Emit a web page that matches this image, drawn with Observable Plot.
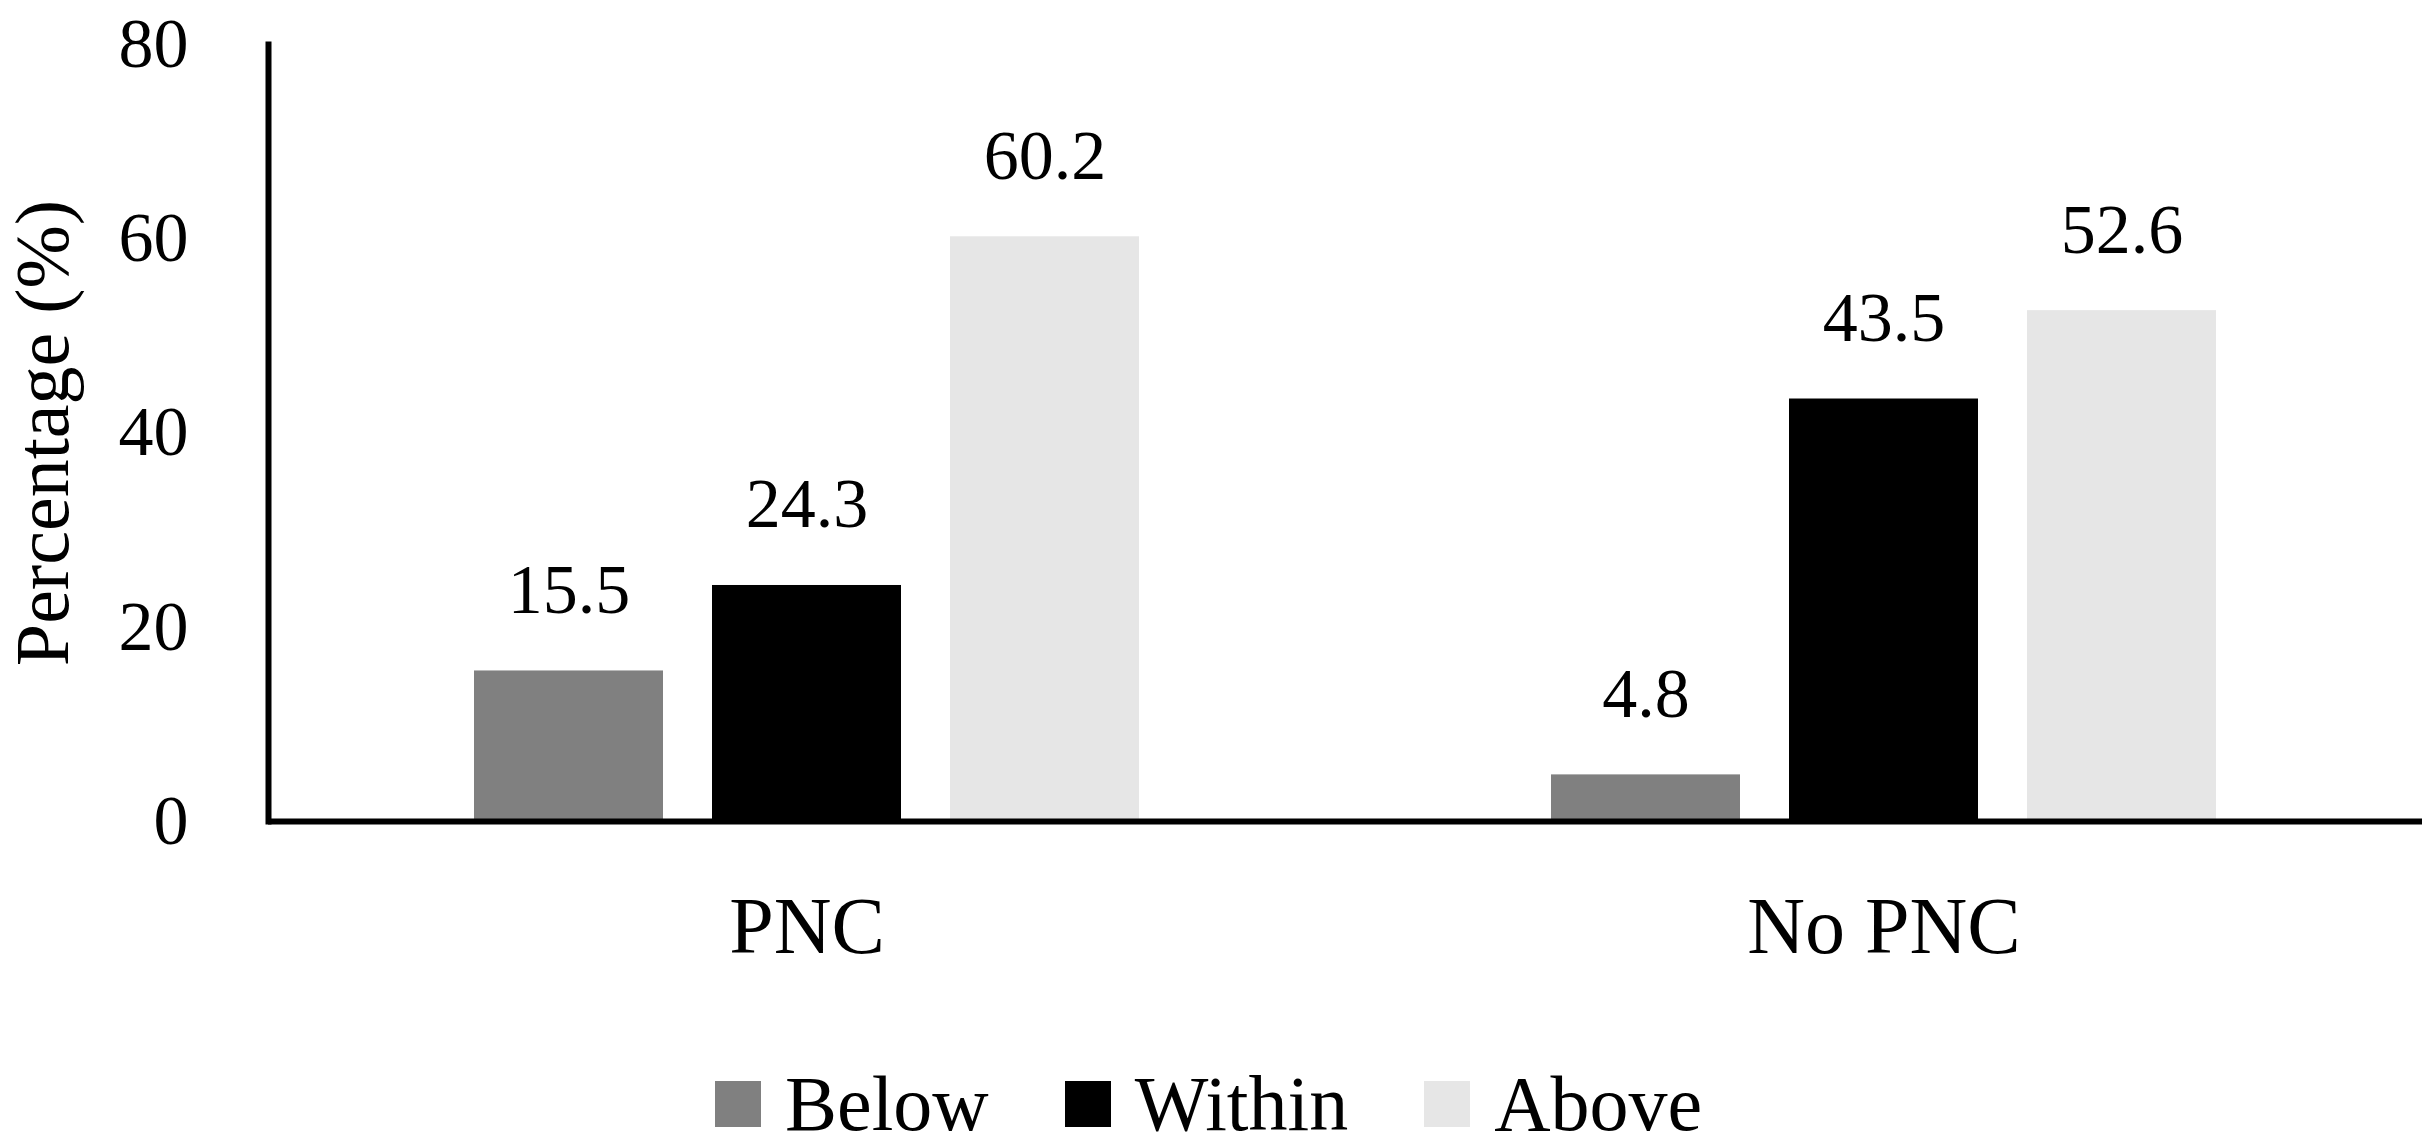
<!DOCTYPE html>
<html>
<head>
<meta charset="utf-8">
<script src="https://cdn.jsdelivr.net/npm/d3@7"></script>
<script src="https://cdn.jsdelivr.net/npm/@observablehq/plot@0.6"></script>
<style>
  html, body { margin: 0; padding: 0; background: #fff; }
  #wrap { position: relative; width: 2432px; height: 1143px; font-family: "Liberation Serif", serif; }
  #legend { position: absolute; left: 715px; top: 1060px; }
  .lg-swatches { font-family: "Liberation Serif", serif; font-size: 78px; color: #000; line-height: 88px; display: flex; align-items: center; min-height: 88px; }
  .lg-swatch { display: inline-flex; align-items: center; margin-right: 76px; }
  .lg-swatch > svg { margin-right: 24px; }
</style>
</head>
<body>
<div id="wrap"><div id="chart"></div><div id="legend"></div></div>
<script>
const groups = ["PNC", "No PNC"];
const series = ["Below", "Within", "Above"];
const below = [15.5, 4.8];
const within = [24.3, 43.5];
const above = [60.2, 52.6];
const colors = ["#808080", "#000000", "#e6e6e6"];
const yTicks = [0, 20, 40, 60, 80];

const valuesBySeries = [below, within, above];
const data = [];
groups.forEach((g, gi) => {
  series.forEach((s, si) => {
    data.push({group: g, series: s, value: valuesBySeries[si][gi]});
  });
});

const chart = Plot.plot({
  width: 2432,
  height: 1021,
  marginLeft: 267,
  marginRight: 10,
  marginTop: 44,
  marginBottom: 200,
  style: {fontFamily: "Liberation Serif, serif", fontSize: "70px", color: "#000", background: "#fff"},
  fx: {domain: groups, padding: 0, label: null},
  x: {domain: series, padding: 0.2075, insetLeft: 156, insetRight: 156, axis: null},
  y: {domain: [0, 80], axis: null},
  color: {domain: series, range: colors},
  marks: [
    Plot.barY(data, {fx: "group", x: "series", y: "value", fill: "series"}),
    Plot.text(data, {fx: "group", x: "series", y: "value", text: d => d.value.toFixed(1), lineAnchor: "bottom", dy: -58, fontSize: 70, fill: "#000"}),
    Plot.ruleY([0], {stroke: "#000", strokeWidth: 6}),
    Plot.frame({anchor: "left", facetAnchor: "left", stroke: "#000", strokeWidth: 6}),
    Plot.axisY({ticks: yTicks, tickSize: 0, tickPadding: 80, fontSize: 70, label: null, tickFormat: d => String(d)}),
    Plot.axisY([], {label: "Percentage (%)", labelAnchor: "center", labelArrow: "none", labelOffset: 254, fontSize: 76, tickSize: 0}),
    Plot.axisFx({anchor: "bottom", tickSize: 0, tickPadding: 75, fontSize: 80, label: null})
  ]
});
document.getElementById("chart").appendChild(chart);

const legend = Plot.legend({
  color: {domain: series, range: colors},
  legend: "swatches",
  swatchSize: 46,
  className: "lg"
});
document.getElementById("legend").appendChild(legend);
</script>
</body>
</html>
